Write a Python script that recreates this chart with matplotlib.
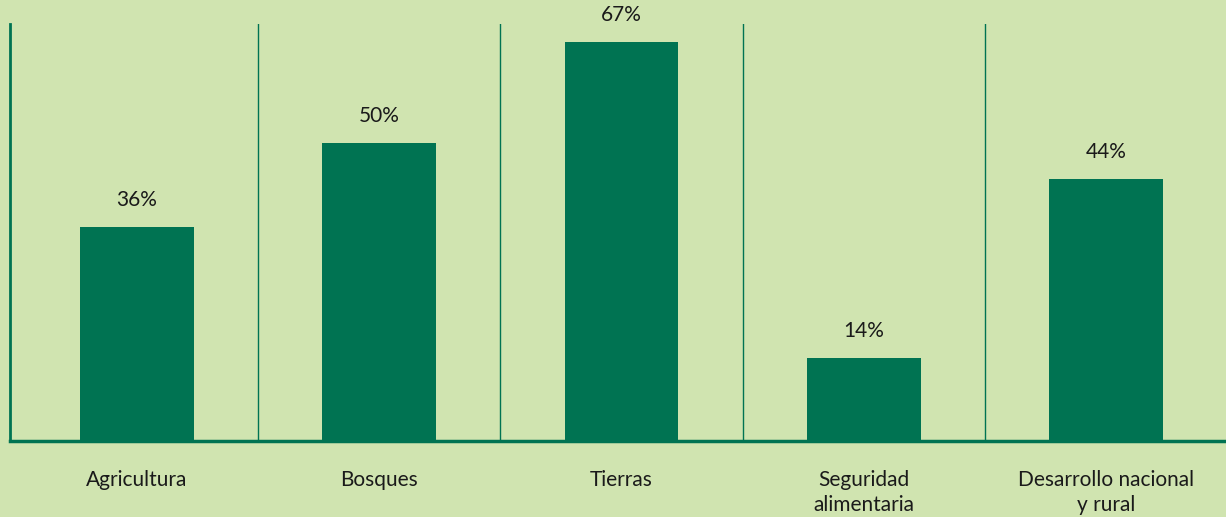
import matplotlib
matplotlib.use("Agg")
import matplotlib.pyplot as plt

categories = ["Agricultura", "Bosques", "Tierras", "Seguridad\nalimentaria", "Desarrollo nacional\ny rural"]
values = [36, 50, 67, 14, 44]
value_labels = ["36%", "50%", "67%", "14%", "44%"]

BG = "#d0e4b0"
GREEN = "#007352"

plt.rcParams['font.family'] = ['Lato', 'DejaVu Sans']

fig = plt.figure(figsize=(12.26, 5.17), dpi=100, facecolor=BG)
W, H = 1226, 517
left, right, bottom, top = 10, 1226, 441, 24
ax = fig.add_axes([left / W, 1 - bottom / H, (right - left) / W, (bottom - top) / H])
ax.set_facecolor(BG)

x = list(range(len(categories)))
ax.bar(x, values, width=0.47, color=GREEN, zorder=2)
ax.set_xlim(-0.524, 4.495)
ax.set_ylim(0, 70)

for xi, v, lab in zip(x, values, value_labels):
    ax.annotate(lab, (xi, v), xytext=(0, 12), textcoords="offset points",
                ha="center", va="bottom", fontsize=15, color="#1a1a1a")

for xi in x[:-1]:
    ax.axvline(xi + 0.5, color=GREEN, lw=1.0, zorder=1)

for s in ["top", "right"]:
    ax.spines[s].set_visible(False)
ax.spines["left"].set_color(GREEN)
ax.spines["left"].set_linewidth(2.0)
ax.spines["bottom"].set_color(GREEN)
ax.spines["bottom"].set_linewidth(2.5)

ax.set_yticks([])
ax.set_xticks(x)
ax.set_xticklabels(categories, fontsize=15, color="#1a1a1a", linespacing=1.3)
ax.tick_params(axis="x", length=0, pad=21)

fig.savefig("out.png", dpi=100, facecolor=BG)
